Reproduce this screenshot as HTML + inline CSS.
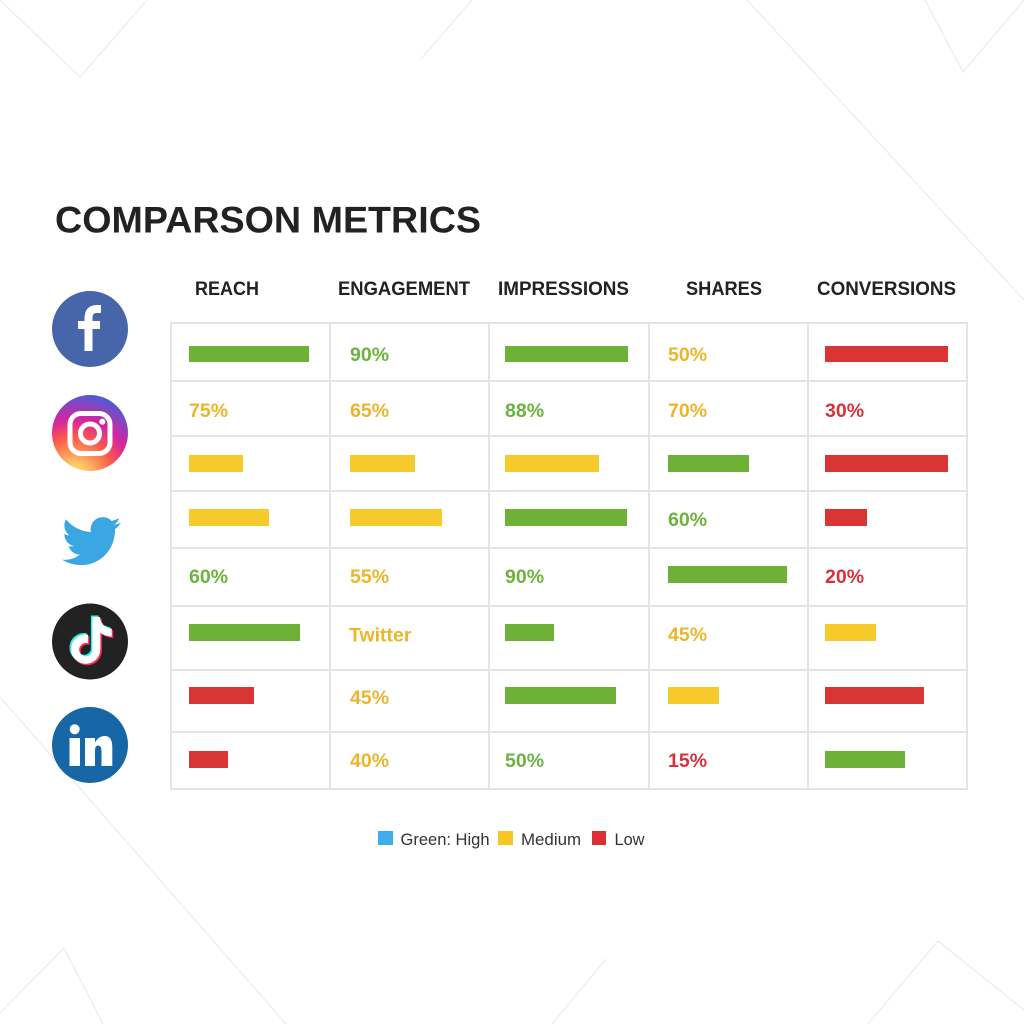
<!DOCTYPE html>
<html>
<head>
<meta charset="utf-8">
<style>
  html,body{margin:0;padding:0;background:#fff;}
  svg{display:block;}
  .h{font-family:"Liberation Sans",Arial,sans-serif;font-weight:bold;fill:#222;}
  .v{font-family:"Liberation Sans",Arial,sans-serif;font-weight:bold;font-size:19.5px;}
  .g{fill:#6cb33e;} .y{fill:#ecb52a;} .r{fill:#d8313b;}
  .bg{fill:#6db236;} .by{fill:#f6ca2a;} .br{fill:#d93535;}
  .lg{font-family:"Liberation Sans",Arial,sans-serif;font-size:16.5px;fill:#333;}
</style>
</head>
<body>
<svg width="1024" height="1024" viewBox="0 0 1024 1024" xmlns="http://www.w3.org/2000/svg">
  <defs>
    <radialGradient id="ig" cx="0.3" cy="1.07" r="1.15">
      <stop offset="0" stop-color="#fdf497"/>
      <stop offset="0.1" stop-color="#fdd66a"/>
      <stop offset="0.45" stop-color="#fd5949"/>
      <stop offset="0.65" stop-color="#d6249f"/>
      <stop offset="0.95" stop-color="#4f5bd5"/>
    </radialGradient>
  </defs>
  <rect width="1024" height="1024" fill="#ffffff"/>

  <!-- faint background lines -->
  <g fill="none" stroke="#ececec" stroke-width="1.2">
    <polyline points="0,0 80,77 147,0"/>
    <polyline points="472,0 421,59"/>
    <polyline points="747,0 1024,300"/>
    <polyline points="925,0 963,72 1024,0"/>
    <polyline points="0,697 286,1024"/>
    <polyline points="0,1013 64,948 103,1024"/>
    <polyline points="552,1024 606,959"/>
    <polyline points="868,1024 938,941 1024,1010"/>
  </g>

  <!-- title -->
  <text class="h" x="55" y="232.5" font-size="37" textLength="426" lengthAdjust="spacingAndGlyphs">COMPARSON METRICS</text>

  <!-- headers -->
  <g class="h" font-size="19.5">
    <text x="195" y="295" textLength="64" lengthAdjust="spacingAndGlyphs">REACH</text>
    <text x="338" y="295" textLength="132" lengthAdjust="spacingAndGlyphs">ENGAGEMENT</text>
    <text x="498" y="295" textLength="131" lengthAdjust="spacingAndGlyphs">IMPRESSIONS</text>
    <text x="686" y="295" textLength="76" lengthAdjust="spacingAndGlyphs">SHARES</text>
    <text x="817" y="295" textLength="139" lengthAdjust="spacingAndGlyphs">CONVERSIONS</text>
  </g>

  <!-- grid -->
  <g stroke="#e4e4e4" stroke-width="2" fill="none">
    <rect x="171" y="323" width="796" height="466"/>
    <line x1="330" y1="323" x2="330" y2="789"/>
    <line x1="489" y1="323" x2="489" y2="789"/>
    <line x1="649" y1="323" x2="649" y2="789"/>
    <line x1="808" y1="323" x2="808" y2="789"/>
    <line x1="171" y1="381" x2="967" y2="381"/>
    <line x1="171" y1="436" x2="967" y2="436"/>
    <line x1="171" y1="491" x2="967" y2="491"/>
    <line x1="171" y1="548" x2="967" y2="548"/>
    <line x1="171" y1="606" x2="967" y2="606"/>
    <line x1="171" y1="670" x2="967" y2="670"/>
    <line x1="171" y1="732" x2="967" y2="732"/>
  </g>

  <!-- row 1 -->
  <rect class="bg" x="189" y="346" width="120" height="16"/>
  <text class="v g" x="350" y="361">90%</text>
  <rect class="bg" x="505" y="346" width="123" height="16"/>
  <text class="v y" x="668" y="361">50%</text>
  <rect class="br" x="825" y="346" width="123" height="16"/>

  <!-- row 2 -->
  <text class="v y" x="189" y="417">75%</text>
  <text class="v y" x="350" y="417">65%</text>
  <text class="v g" x="505" y="417">88%</text>
  <text class="v y" x="668" y="417">70%</text>
  <text class="v r" x="825" y="417">30%</text>

  <!-- row 3 -->
  <rect class="by" x="189" y="455" width="54" height="17"/>
  <rect class="by" x="350" y="455" width="65" height="17"/>
  <rect class="by" x="505" y="455" width="94" height="17"/>
  <rect class="bg" x="668" y="455" width="81" height="17"/>
  <rect class="br" x="825" y="455" width="123" height="17"/>

  <!-- row 4 -->
  <rect class="by" x="189" y="509" width="80" height="17"/>
  <rect class="by" x="350" y="509" width="92" height="17"/>
  <rect class="bg" x="505" y="509" width="122" height="17"/>
  <text class="v g" x="668" y="526">60%</text>
  <rect class="br" x="825" y="509" width="42" height="17"/>

  <!-- row 5 -->
  <text class="v g" x="189" y="583">60%</text>
  <text class="v y" x="350" y="583">55%</text>
  <text class="v g" x="505" y="583">90%</text>
  <rect class="bg" x="668" y="566" width="119" height="17"/>
  <text class="v r" x="825" y="583">20%</text>

  <!-- row 6 -->
  <rect class="bg" x="189" y="624" width="111" height="17"/>
  <text class="v y" x="349" y="641.5" font-size="20">Twitter</text>
  <rect class="bg" x="505" y="624" width="49" height="17"/>
  <text class="v y" x="668" y="641">45%</text>
  <rect class="by" x="825" y="624" width="51" height="17"/>

  <!-- row 7 -->
  <rect class="br" x="189" y="687" width="65" height="17"/>
  <text class="v y" x="350" y="704">45%</text>
  <rect class="bg" x="505" y="687" width="111" height="17"/>
  <rect class="by" x="668" y="687" width="51" height="17"/>
  <rect class="br" x="825" y="687" width="99" height="17"/>

  <!-- row 8 -->
  <rect class="br" x="189" y="751" width="39" height="17"/>
  <text class="v y" x="350" y="767">40%</text>
  <text class="v g" x="505" y="767">50%</text>
  <text class="v r" x="668" y="767">15%</text>
  <rect class="bg" x="825" y="751" width="80" height="17"/>

  <!-- Facebook -->
  <circle cx="90" cy="329" r="38" fill="#4766a9"/>
  <g fill="#fff">
    <rect x="84.5" y="316" width="8" height="35"/>
    <rect x="78" y="321" width="22" height="8"/>
    <path d="M84.5 319 Q84.5 305 97 305 H101 V313 H96.5 Q92.5 313 92.5 317.5 V321 H84.5 Z"/>
  </g>

  <!-- Instagram -->
  <circle cx="90" cy="433" r="38" fill="url(#ig)"/>
  <rect x="70" y="413.5" width="40" height="40" rx="11" fill="none" stroke="#fff" stroke-width="5"/>
  <circle cx="90" cy="433.5" r="9.5" fill="none" stroke="#fff" stroke-width="5"/>
  <circle cx="102.3" cy="421.7" r="3" fill="#fff"/>

  <!-- Twitter -->
  <path transform="translate(62,511.6) scale(2.46)" fill="#3aa7e3" d="M23.953 4.57a10 10 0 01-2.825.775 4.958 4.958 0 002.163-2.723c-.951.555-2.005.959-3.127 1.184a4.92 4.92 0 00-8.384 4.482C7.69 8.095 4.067 6.13 1.64 3.162a4.822 4.822 0 00-.666 2.475c0 1.71.87 3.213 2.188 4.096a4.904 4.904 0 01-2.228-.616v.06a4.923 4.923 0 003.946 4.827 4.996 4.996 0 01-2.212.085 4.936 4.936 0 004.604 3.417 9.867 9.867 0 01-6.102 2.105c-.39 0-.779-.023-1.17-.067a13.995 13.995 0 007.557 2.209c9.053 0 13.998-7.496 13.998-13.985 0-.21 0-.42-.015-.63A9.935 9.935 0 0024 4.59z"/>

  <!-- TikTok -->
  <circle cx="90" cy="641.5" r="38" fill="#222"/>
  <g id="tt">
    <path transform="translate(66.5,615.5) scale(1.95)" fill="#25f4ee" d="M12.525.02c1.31-.02 2.61-.01 3.91-.02.08 1.53.63 3.09 1.750 4.17 1.12 1.11 2.7 1.62 4.24 1.79v4.03c-1.44-.05-2.890-.35-4.2-.97-.57-.26-1.1-.59-1.62-.93-.01 2.92.01 5.84-.02 8.75-.08 1.4-.54 2.79-1.35 3.94-1.31 1.92-3.58 3.17-5.91 3.21-1.43.08-2.86-.31-4.08-1.03-2.02-1.19-3.44-3.37-3.65-5.71-.02-.5-.03-1-.01-1.49.18-1.9 1.12-3.72 2.58-4.96 1.66-1.44 3.98-2.13 6.15-1.72.02 1.48-.04 2.96-.04 4.44-.99-.32-2.15-.23-3.02.37-.63.41-1.11 1.04-1.36 1.75-.21.51-.15 1.070-.14 1.61.24 1.64 1.82 3.02 3.5 2.87 1.12-.01 2.19-.66 2.77-1.61.19-.33.4-.67.41-1.06.1-1.79.06-3.57.07-5.36.01-4.03-.01-8.050.02-12.07z"/>
    <path transform="translate(69.5,618.5) scale(1.95)" fill="#fe2c55" d="M12.525.02c1.31-.02 2.61-.01 3.91-.02.08 1.53.63 3.09 1.750 4.17 1.12 1.11 2.7 1.62 4.24 1.79v4.03c-1.44-.05-2.890-.35-4.2-.97-.57-.26-1.1-.59-1.62-.93-.01 2.92.01 5.84-.02 8.75-.08 1.4-.54 2.79-1.35 3.94-1.31 1.92-3.58 3.17-5.91 3.21-1.43.08-2.86-.31-4.08-1.03-2.02-1.19-3.44-3.37-3.65-5.71-.02-.5-.03-1-.01-1.49.18-1.9 1.12-3.72 2.58-4.96 1.66-1.44 3.98-2.13 6.15-1.72.02 1.48-.04 2.96-.04 4.44-.99-.32-2.15-.23-3.02.37-.63.41-1.11 1.04-1.36 1.75-.21.51-.15 1.070-.14 1.61.24 1.64 1.82 3.02 3.5 2.87 1.12-.01 2.19-.66 2.77-1.61.19-.33.4-.67.41-1.06.1-1.79.06-3.57.07-5.36.01-4.03-.01-8.050.02-12.07z"/>
    <path transform="translate(68,617) scale(1.95)" fill="#fff" d="M12.525.02c1.31-.02 2.61-.01 3.91-.02.08 1.53.63 3.09 1.750 4.17 1.12 1.11 2.7 1.62 4.24 1.79v4.03c-1.44-.05-2.890-.35-4.2-.97-.57-.26-1.1-.59-1.62-.93-.01 2.92.01 5.84-.02 8.75-.08 1.4-.54 2.79-1.35 3.94-1.31 1.92-3.58 3.17-5.91 3.21-1.43.08-2.86-.31-4.08-1.03-2.02-1.19-3.44-3.37-3.65-5.710-.02-.5-.03-1-.01-1.49.18-1.9 1.12-3.72 2.58-4.96 1.66-1.44 3.98-2.13 6.15-1.72.02 1.48-.04 2.96-.04 4.44-.99-.32-2.15-.23-3.02.37-.63.41-1.11 1.04-1.36 1.75-.21.51-.15 1.070-.14 1.61.24 1.64 1.82 3.02 3.5 2.87 1.12-.01 2.19-.66 2.77-1.61.19-.33.4-.67.41-1.06.1-1.79.06-3.57.07-5.36.01-4.03-.01-8.050.02-12.07z"/>
  </g>

  <!-- LinkedIn -->
  <circle cx="90" cy="745" r="38" fill="#1766a6"/>
  <g fill="#fff">
    <circle cx="74.7" cy="729.3" r="5"/>
    <rect x="69.5" y="738" width="10.5" height="28"/>
    <path d="M85 738 H95 V742.5 Q98.5 736 105 736 Q112.3 736 112.3 747.5 V766 H101.5 V751 Q101.5 745.5 97.8 745.5 Q95 745.5 95 751 V766 H85 Z"/>
  </g>

  <!-- legend -->
  <rect x="378" y="831" width="15" height="14" fill="#3daee9"/>
  <text class="lg" x="400.5" y="845" textLength="89" lengthAdjust="spacingAndGlyphs">Green: High</text>
  <rect x="498" y="831" width="15" height="14" fill="#f6c627"/>
  <text class="lg" x="521" y="845" textLength="60" lengthAdjust="spacingAndGlyphs">Medium</text>
  <rect x="592" y="831" width="14" height="14" fill="#d92f35"/>
  <text class="lg" x="614.5" y="845" textLength="30" lengthAdjust="spacingAndGlyphs">Low</text>
</svg>
</body>
</html>
